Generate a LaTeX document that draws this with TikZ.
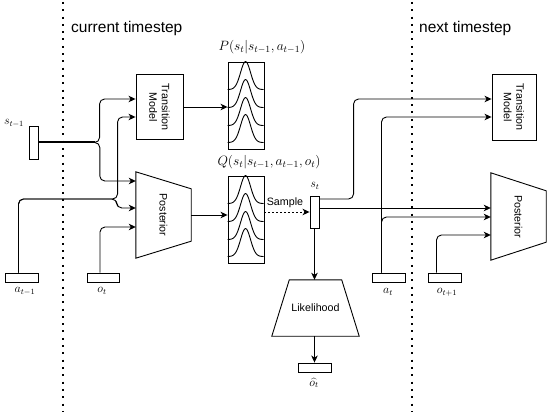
\RequirePackage{fix-cm}
\documentclass[tikz,border=0pt]{standalone}
\usepackage{fontspec}
\setmainfont{Liberation Sans}
\usetikzlibrary{arrows.meta,calc}
\begin{document}
\begin{tikzpicture}[x=1pt,y=-1pt,
  box/.style={draw, line width=0.9pt, inner sep=0pt},
  ghost/.style={inner sep=0pt},
  lbl/.style={font=\fontsize{10.7}{12.5}\selectfont, align=center},
  mlbl/.style={font=\fontsize{12}{14}\selectfont, inner sep=0pt},
  biglbl/.style={font=\fontsize{13.5}{16}\selectfont, inner sep=0pt},
  title/.style={font=\fontsize{15.5}{18}\selectfont, anchor=west, inner sep=0pt},
  arr/.style={line width=0.9pt, -{Stealth[length=7pt,width=6.5pt,inset=2pt]}, rounded corners=5pt},
  sep/.style={line width=2pt, dash pattern=on 2pt off 5.3pt},
  gauss/.style={line width=0.9pt}
]
\useasboundingbox (0,0) rectangle (550,412);

% separators
\draw[sep] (63,2) -- (63,412);
\draw[sep] (412,2) -- (412,412);
\node[title] (cur) at (71,28) {current timestep};
\node[title] (nxt) at (419,28) {next timestep};

% input boxes
\node[box, minimum width=9, minimum height=33] (st1) at (33.5,142.5) {};
\node[mlbl] at (14,123) {$s_{t-1}$};
\node[box, minimum width=33, minimum height=9] (at1) at (21.5,277.5) {};
\node[mlbl] at (25,291) {$a_{t-1}$};
\node[box, minimum width=32, minimum height=9] (ot) at (103,277.5) {};
\node[mlbl] at (102,291) {$o_t$};

% transition model 1
\node[box, minimum width=47, minimum height=65] (tm1) at (159.5,107) {};
\node[lbl, rotate=-90] at (tm1) {Transition\\Model};

% posterior 1
\node[ghost, minimum width=55, minimum height=86] (post1) at (163.5,215) {};
\draw[line width=0.9pt] (post1.north west) -- ($(post1.north east)+(0,17)$) -- ($(post1.south east)+(0,-17)$) -- (post1.south west) -- cycle;
\node[lbl, rotate=-90] at (post1) {Posterior};

% P and Q boxes
\node[box, minimum width=36, minimum height=87] (P) at (246,105.5) {};
\node[biglbl] at (262,47) {$P(s_t|s_{t-1},a_{t-1})$};
\node[box, minimum width=36, minimum height=87] (Q) at (246,219.5) {};
\node[biglbl] at (269,162) {$Q(s_t|s_{t-1},a_{t-1},o_t)$};
\foreach \bx in {P,Q}{
  \begin{scope}[shift={(\bx.north west)}]
    \foreach \b in {28,46,64,81}{
      \draw[gauss] plot[domain=-18:18, samples=41, smooth] ({18+\x},{\b-28*exp(-(\x*\x)/50)});
    }
  \end{scope}
}

% s_t
\node[box, minimum width=9, minimum height=32] (st) at (314.5,212) {};
\node[mlbl] at (315,186) {$s_t$};

% likelihood
\node[ghost, minimum width=87, minimum height=56] (lik) at (315.5,308) {};
\draw[line width=0.9pt] ($(lik.north west)+(17.5,0)$) -- ($(lik.north east)+(-17.5,0)$) -- (lik.south east) -- (lik.south west) -- cycle;
\node[lbl] at (lik) {Likelihood};
\node[box, minimum width=33, minimum height=9] (oh) at (314.5,367.5) {};
\node[mlbl] at (314,383) {$\widehat{o_t}$};

% next timestep inputs
\node[box, minimum width=33, minimum height=9] (at) at (388.5,277.5) {};
\node[mlbl] at (388,292) {$a_t$};
\node[box, minimum width=33, minimum height=9] (ot1) at (444.5,277.5) {};
\node[mlbl] at (447,292) {$o_{t+1}$};

% transition model 2
\node[box, minimum width=44, minimum height=66] (tm2) at (514,107) {};
\node[lbl, rotate=-90] at (tm2) {Transition\\Model};

% posterior 2
\node[ghost, minimum width=55, minimum height=87] (post2) at (518.5,216.5) {};
\draw[line width=0.9pt] (post2.north west) -- ($(post2.north east)+(0,18)$) -- ($(post2.south east)+(0,-18)$) -- (post2.south west) -- cycle;
\node[lbl, rotate=-90] at (post2) {Posterior};

% connectors, current timestep
\draw[line width=2pt] (st1.east) -- ($(st1.east)+(57,0)$);
\draw[arr] (st1.east) -| ($(tm1.west)+(-36,-8)$) -- ($(tm1.west)+(0,-8)$);
\draw[arr] (st1.east) -| ($(post1.west)+(-36,-34)$) -- ($(post1.west)+(0,-34)$);
\coordinate (a1s) at ($(at1.north)+(-3,0)$);
\draw[arr] (a1s) |- ($(tm1.west)+(-18,92)$) |- ($(tm1.west)+(0,10)$);
\draw[arr] (a1s) |- ($(post1.west)+(-19,-16)$) |- ($(post1.west)+(0,-7)$);
\draw[arr] ($(ot.north)+(-3,0)$) |- ($(post1.west)+(0,12)$);
\draw[arr] (tm1.east) -- (tm1.east -| P.west);
\draw[arr] (post1.east) -- (post1.east -| Q.west);
\draw[arr, dash pattern=on 1.5pt off 2.5pt] (Q.east |- st.west) -- (st.west);
\node[lbl] (smp) at (285,203) {Sample};

% connectors, towards next timestep
\draw[arr] ($(st.east)+(0,-13)$) -| ($(tm2.west)+(-138,-8)$) -- ($(tm2.west)+(0,-8)$);
\coordinate (s2) at ($(st.east)+(0,-4)$);
\draw[arr] (s2) -- (s2 -| post2.west);
\coordinate (as) at ($(at.north)+(-7,0)$);
\draw[arr] (as) |- ($(tm2.west)+(0,10)$);
\draw[arr] (as) |- ($(post2.west)+(0,0.5)$);
\draw[arr] ($(ot1.north)+(-8,0)$) |- ($(post2.west)+(0,18.5)$);
\draw[arr] (st.south) -- (st.south |- lik.north);
\draw[arr] (oh.north |- lik.south) -- (oh.north);
\end{tikzpicture}
\end{document}
